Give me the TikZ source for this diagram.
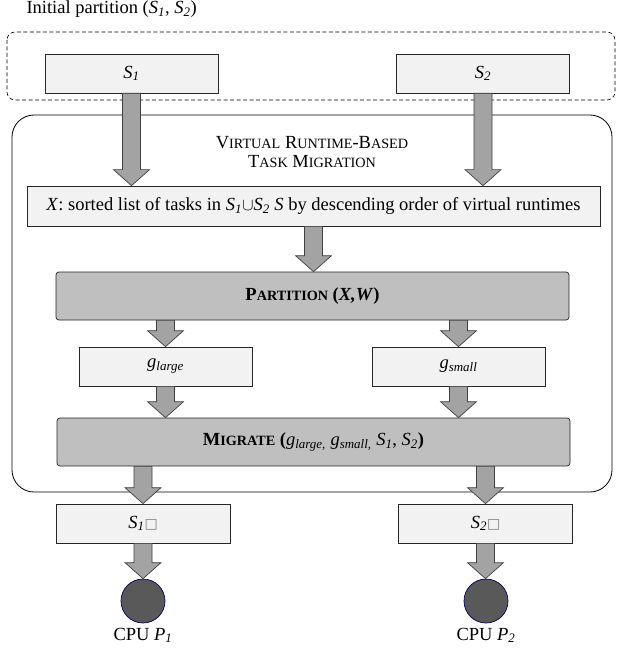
\documentclass[tikz,border=0pt]{standalone}
\usepackage{fontspec}
\setmainfont{Liberation Serif}
\newfontfamily\symfont{DejaVu Sans}
\usetikzlibrary{positioning,calc}

\newcommand{\iv}[2]{\textit{#1}\textsubscript{\textit{#2}}}
\newcommand{\fsc}[2]{#1{\fontsize{14.2}{16}\selectfont #2}}
\newcommand{\nochar}{{\symfont\fontsize{14}{16}\selectfont\color{gray}□}}
\newcommand{\fatarrow}[2]{%
  \draw[fat] let \p1=(#1), \p2=(#2) in
    (\x1-9pt,\y1) -- (\x1-9pt,\y2+16pt) -- (\x1-18pt,\y2+16pt) -- (\x1,\y2)
    -- (\x1+18pt,\y2+16pt) -- (\x1+9pt,\y2+16pt) -- (\x1+9pt,\y1) -- cycle;}

\begin{document}
\begin{tikzpicture}[x=1pt,y=-1pt,
    font=\fontsize{18.5}{21}\selectfont,
    setbox/.style={draw=black!85, line width=0.7pt, fill=black!5, inner sep=0pt},
    stagebox/.style={draw=black!85, line width=0.7pt, fill=black!25,
      rounded corners=3pt, inner sep=0pt, minimum width=513pt, minimum height=48pt},
    fat/.style={draw=black!75, line width=0.7pt, fill=black!36},
    cpu/.style={circle, draw=blue!35!black, line width=0.7pt, fill=black!65,
      minimum size=44pt, inner sep=0pt}]
  \useasboundingbox (0,0) rectangle (616,655);

  \node[anchor=base west] (init) at (23,14) {Initial partition (\iv{S}{1}, \iv{S}{2})};
  \draw[dash pattern=on 4pt off 2.5pt, line width=0.6pt, rounded corners=8pt]
    (7,32) rectangle (615,100);
  \draw[line width=0.8pt, rounded corners=22pt] (12,115) rectangle (612,492);

  \node[setbox, minimum width=173pt, minimum height=39pt] (S1) at (131.5,73.5) {\iv{S}{1}};
  \node[setbox, minimum width=173pt, minimum height=39pt] (S2) at (483,73.5) {\iv{S}{2}};

  \node[align=center] (title) at (312,152)
    {\fsc{V}{IRTUAL} \fsc{R}{UNTIME}-\fsc{B}{ASED}\\[-2pt]\fsc{T}{ASK} \fsc{M}{IGRATION}};

  \node[setbox, minimum width=573pt, minimum height=40pt] (X) at (313.5,206)
    {\textit{X}: sorted list of tasks in \iv{S}{1}$\cup$\iv{S}{2} \textit{S} by descending order of virtual runtimes};

  \node[stagebox] (part) at (312.5,296) {\textbf{\fsc{P}{ARTITION} (\textit{X,W})}};

  \node[setbox, minimum width=173pt, minimum height=39pt] (glarge) at (165.5,366.5) {\iv{g}{large}};
  \node[setbox, minimum width=173pt, minimum height=39pt] (gsmall) at (458.5,366.5) {\iv{g}{small}};

  \node[stagebox] (migr) at (313.5,442)
    {\textbf{\fsc{M}{IGRATE} (}\iv{g}{large,} \iv{g}{small,} \iv{S}{1}, \iv{S}{2}\textbf{)}};

  \node[setbox, minimum width=174pt, minimum height=39pt] (S1n) at (143,523.5) {\iv{S}{1}\nochar};
  \node[setbox, minimum width=174pt, minimum height=39pt] (S2n) at (485.5,523.5) {\iv{S}{2}\nochar};

  \node[cpu] (P1) at (143,601) {};
  \node[cpu] (P2) at (486,601) {};
  \node[below=1pt of P1] (P1lbl) {CPU \iv{P}{1}};
  \node[below=1pt of P2] (P2lbl) {CPU \iv{P}{2}};

  % arrows
  \fatarrow{S1.south}{S1.south |- X.north}
  \fatarrow{S2.south}{S2.south |- X.north}
  \fatarrow{X.south}{X.south |- part.north}
  \fatarrow{glarge.north |- part.south}{glarge.north}
  \fatarrow{gsmall.north |- part.south}{gsmall.north}
  \fatarrow{glarge.south}{glarge.south |- migr.north}
  \fatarrow{gsmall.south}{gsmall.south |- migr.north}
  \fatarrow{S1n.north |- migr.south}{S1n.north}
  \fatarrow{S2n.north |- migr.south}{S2n.north}
  \fatarrow{S1n.south}{P1.north}
  \fatarrow{S2n.south}{P2.north}
\end{tikzpicture}
\end{document}
